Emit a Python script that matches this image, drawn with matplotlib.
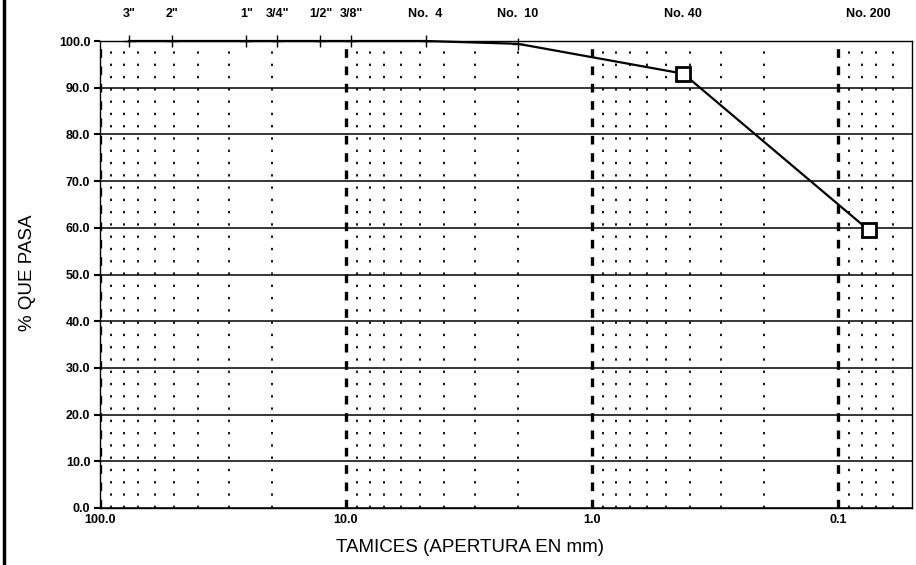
import numpy as np
import matplotlib.pyplot as plt
from matplotlib.lines import Line2D
from matplotlib import transforms

plt.rcParams['font.family'] = ['Liberation Sans', 'DejaVu Sans']

# sieve data
sieves = ['3"', '2"', '1"', '3/4"', '1/2"', '3/8"', 'No.  4', 'No.  10', 'No. 40', 'No. 200']
openings = [76.2, 50.8, 25.4, 19.05, 12.7, 9.525, 4.75, 2.0, 0.425, 0.075]
passing = [100.0, 100.0, 100.0, 100.0, 100.0, 100.0, 100.0, 99.4, 93.0, 59.5]
fine_idx = [8, 9]

yticks = [0, 10, 20, 30, 40, 50, 60, 70, 80, 90, 100]
xticks = [100.0, 10.0, 1.0, 0.1]
xticklabels = ['100.0', '10.0', '1.0', '0.1']

fig = plt.figure(figsize=(9.16, 5.65), dpi=100)
ax = fig.add_axes([100/916, 57/565, 812/916, 467/565])
ax.set_xscale('log')
ax.set_xlim(100, 0.05)
ax.set_ylim(0, 100)

# horizontal grid
for y in yticks:
    ax.axhline(y, color='black', lw=1.1, zorder=1)
# minor vertical grid (dotted)
for dec in [10.0, 1.0, 0.1, 0.01]:
    for k in range(2, 10):
        v = k*dec
        if 0.05 < v < 100:
            ax.axvline(v, color='black', lw=1.3, ls=(0, (1.3, 5.5)), zorder=1)
# major vertical grid (thick dashes)
for v in xticks:
    ax.axvline(v, color='black', lw=2.4, ls=(0, (2.6, 2.6)), zorder=1)

# curve
ax.plot(openings, passing, color='black', lw=1.6, marker='+', ms=9, mew=1,
        zorder=3, clip_on=False)
ax.plot([openings[i] for i in fine_idx], [passing[i] for i in fine_idx], ls='none',
        marker='s', ms=10, mfc='white', mec='black', mew=2, zorder=4, clip_on=False)

ax.set_yticks(yticks)
ax.set_yticklabels(['%.1f' % y for y in yticks], fontsize=9, fontweight='bold')
ax.set_xticks(xticks)
ax.set_xticklabels(xticklabels, fontsize=9, fontweight='bold')
ax.xaxis.set_minor_locator(plt.NullLocator())
ax.tick_params(axis='y', length=4, width=1.5, pad=3)
ax.tick_params(axis='x', length=0, pad=4)
for s in ax.spines.values():
    s.set_linewidth(1.0)

# sieve names on top
trans = transforms.blended_transform_factory(ax.transData, fig.transFigure)
for name, op in zip(sieves, openings):
    ax.text(op, 1 - 14/565, name, transform=trans, ha='center', va='center',
            fontsize=9, fontweight='bold')

fig.text(27/916, 1 - 273/565, '% QUE PASA', rotation=90, ha='center', va='center', fontsize=13.5)
fig.text(470/916, 1 - 548/565, 'TAMICES (APERTURA EN mm)', ha='center', va='center', fontsize=13.5)

# scan border on the left
fig.add_artist(Line2D([4/916, 4/916], [0, 1], color='black', lw=2.5, transform=fig.transFigure))

fig.savefig('out.png', dpi=100)
